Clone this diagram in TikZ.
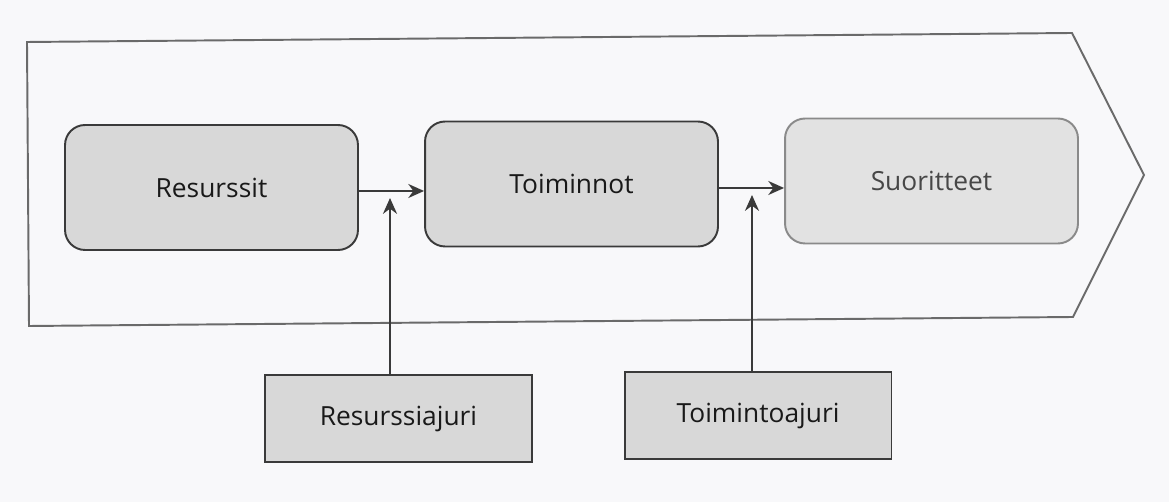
\documentclass[tikz,border=0pt]{standalone}
\usepackage{fontspec}
\setmainfont{Open Sans}
\usetikzlibrary{arrows.meta}
\definecolor{bg}{HTML}{F8F8FA}
\definecolor{boxfill}{HTML}{D8D8D8}
\definecolor{lightfill}{HTML}{E2E2E2}
\definecolor{edge}{HTML}{3A3A3A}
\definecolor{lightedge}{HTML}{8A8A8A}
\definecolor{outline}{HTML}{6A6A6A}
\tikzset{
  px/.style={x=0.02cm,y=-0.02cm},
  mainbox/.style={draw=edge,line width=1.1pt,fill=boxfill,rounded corners=0.4cm,
    minimum width=5.86cm,minimum height=2.5cm,font=\fontsize{15}{18}\selectfont,text=black!90},
  outbox/.style={mainbox,draw=lightedge,fill=lightfill,text=black!72},
  driverbox/.style={draw=edge,line width=1.1pt,fill=boxfill,minimum width=5.34cm,
    minimum height=1.74cm,font=\fontsize{15}{18}\selectfont,text=black!90},
  flow/.style={draw=edge,line width=1.1pt,-{Stealth[length=9pt,width=8pt]}},
}
\begin{document}
\begin{tikzpicture}[px]
\fill[bg] (0,0) rectangle (1169,502);
\useasboundingbox (0,0) rectangle (1169,502);
\draw[outline,line width=1.1pt,line join=miter] (29,326) -- (27,42) -- (1072,33) -- (1144,175) -- (1073,317) -- cycle;
\node[mainbox] (res) at (211.5,187.5) {Resurssit};
\node[mainbox] (toi) at (571.5,184) {Toiminnot};
\node[outbox] (suo) at (931.5,181) {Suoritteet};
\node[driverbox] (resaj) at (398.5,418.5) {Resurssiajuri};
\node[driverbox] (toiaj) at (758,415.5) {Toimintoajuri};
\coordinate (m1) at (390,191);
\coordinate (m2) at (752,188);
\draw[flow] (res.east |- m1) -- (toi.west |- m1);
\draw[flow] (toi.east |- m2) -- (suo.west |- m2);
\draw[flow] (resaj.north -| m1) -- ([yshift=-4pt]m1);
\draw[flow] (toiaj.north -| m2) -- ([yshift=-4pt]m2);
\end{tikzpicture}
\end{document}
